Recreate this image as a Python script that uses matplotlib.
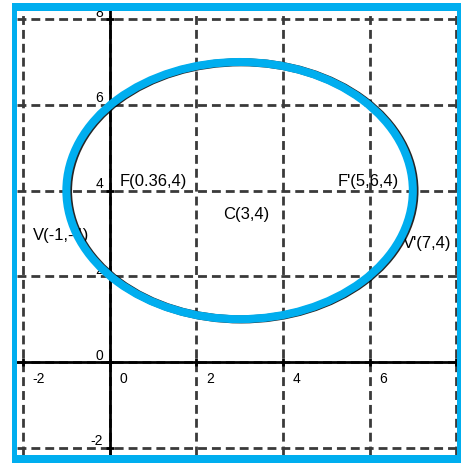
import matplotlib
matplotlib.use("Agg")
import matplotlib.pyplot as plt
import matplotlib.patheffects as pe
from matplotlib.patches import Ellipse, Rectangle

# data
grid_vals = [-2, 0, 2, 4, 6, 8]
x_tick_labels = ["-2", "0", "2", "4", "6"]
y_tick_labels = ["-2", "0", "2", "4", "6", "8"]
center = (3, 4)
semi_major = 4
semi_minor = 3
point_labels = ["F(0.36,4)", "F'(5,6,4)", "C(3,4)", "V(-1,-4)", "V'(7,4)"]
label_pos = [(0.22, 4.12), (5.27, 4.12), (2.62, 3.36), (-1.77, 2.86), (6.78, 2.68)]

blue = "#00AEEF"
W, H = 461, 464

plt.rcParams["font.family"] = ["Liberation Sans", "DejaVu Sans"]
fig = plt.figure(figsize=(W / 100, H / 100), dpi=100)
ax = fig.add_axes([17 / W, 8 / H, 440 / W, 444 / H])
ax.set_xlim(-2.14, 8.02)
ax.set_ylim(-2.17, 8.19)
ax.axis("off")

# dashed grid
for v in grid_vals:
    ax.axvline(v, color="#3a3a3a", lw=2.0, ls=(0, (3.2, 1.8)), zorder=1)
    ax.axhline(v, color="#3a3a3a", lw=2.0, ls=(0, (3.2, 1.8)), zorder=1)

# axes
ax.axvline(0, color="black", lw=2.0, zorder=2)
ax.axhline(0, color="black", lw=2.0, zorder=2)
ax.plot(grid_vals, [0] * len(grid_vals), "|", color="black", ms=6, mew=2.0, zorder=2)
ax.plot([0] * len(grid_vals), grid_vals, "_", color="black", ms=6, mew=2.0, zorder=2)

# tick labels
for v, t in zip(grid_vals, x_tick_labels):
    ax.text(v + 0.22, -0.2, t, fontsize=10, ha="left", va="top", zorder=3)
for v, t in zip(grid_vals, y_tick_labels):
    ax.text(-0.15, v + 0.08, t, fontsize=10, ha="right", va="baseline", zorder=3)

# point labels
for t, (x, y) in zip(point_labels, label_pos):
    ax.text(x, y, t, fontsize=12, ha="left", va="baseline", zorder=3)

# ellipse with a slight shadow
ell = Ellipse(center, 2 * semi_major, 2 * semi_minor, fill=False,
              edgecolor=blue, lw=5.8, zorder=4,
              path_effects=[pe.SimpleLineShadow(offset=(1.2, -0.2), shadow_color="black", alpha=0.85),
                            pe.Normal()])
ax.add_patch(ell)

# blue frame
for x0, y0, w, h in [(12, 0, 5, 460), (12, 452, 449, 8), (457, 0, 4, 460), (12, 0, 449, 8)]:
    fig.patches.append(Rectangle((x0 / W, y0 / H), w / W, h / H, transform=fig.transFigure,
                                 facecolor=blue, edgecolor="none", zorder=10))

fig.savefig("out.png", dpi=100)
